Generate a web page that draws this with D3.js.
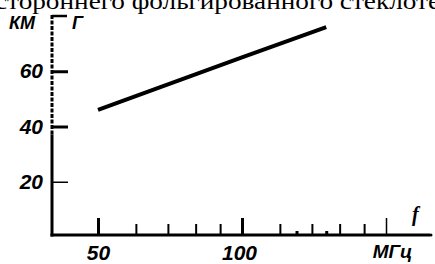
<!DOCTYPE html>
<html>
<head>
<meta charset="utf-8">
<script src="https://cdn.jsdelivr.net/npm/d3@7"></script>
<style>
  body { margin: 0; background: #fff; }
  svg { display: block; }
  .lbl { font-family: "Liberation Sans", Arial, sans-serif; font-style: italic; font-weight: bold; }
</style>
</head>
<body>
<script>
// data
var freq = [50, 100, 150];          // MHz
var values = [46, 65, 76];          // КМ
var yTicks = [20, 40, 60];
var yTopTick = [80];
var xMajor = [50, 100, 200];
var xMajorLabels = ["50", "100", "МГц"];
var xMinor = [60, 70, 80, 90, 120, 140, 160, 180];
var xTiny = [130, 150];

var W = 435, H = 264;
var axisY = 235, axisX = 52;

var svg = d3.select("body").append("svg")
    .attr("width", W)
    .attr("height", H);

// cropped caption line at the top
svg.append("text")
    .attr("x", -5)
    .attr("y", 9)
    .attr("textLength", 445)
    .attr("lengthAdjust", "spacingAndGlyphs")
    .style("font-family", "'Liberation Serif', 'Times New Roman', serif")
    .style("font-size", "24px")
    .text("стороннего фольгированного стеклоте");

// scales
var xScale = d3.scaleLog().domain([50, 200]).range([98, 386]);
var yScale = d3.scaleLinear().domain([0, 80]).range([237, 16]);

// axis lines
svg.append("line")
    .attr("x1", axisX).attr("x2", axisX)
    .attr("y1", yScale(80) - 1).attr("y2", yScale(40) + 8)
    .attr("stroke", "#000").attr("stroke-width", 3)
    .attr("stroke-dasharray", "4,1.5");
svg.append("line")
    .attr("x1", axisX).attr("x2", axisX)
    .attr("y1", yScale(40) + 8).attr("y2", axisY + 1.5)
    .attr("stroke", "#000").attr("stroke-width", 3);
svg.append("line")
    .attr("x1", axisX - 1.5).attr("x2", 430)
    .attr("y1", axisY).attr("y2", axisY)
    .attr("stroke", "#000").attr("stroke-width", 3);
svg.append("circle")
    .attr("cx", 431).attr("cy", axisY).attr("r", 1.5).attr("fill", "#000");

// y axis ticks (inside) + labels (outside)
var yAxis = d3.axisLeft(yScale)
    .tickValues(yTicks)
    .tickSizeInner(-16)
    .tickSizeOuter(0)
    .tickPadding(9)
    .tickFormat(d3.format("d"));
var gy = svg.append("g")
    .attr("transform", "translate(" + axisX + ",0)")
    .call(yAxis);
gy.select(".domain").remove();
gy.selectAll(".tick line").attr("stroke", "#000").attr("stroke-width", function(d) { return d == 20 ? 1.5 : 3; });
gy.selectAll(".tick text").attr("class", "lbl").style("font-size", "21px").attr("fill", "#000");

svg.selectAll(".toptick")
    .data(yTopTick)
    .enter().append("line")
    .attr("x1", axisX).attr("x2", axisX + 15)
    .attr("y1", function(d) { return yScale(d); })
    .attr("y2", function(d) { return yScale(d); })
    .attr("stroke", "#000").attr("stroke-width", 2.5);

// x axis: major, minor, tiny ticks pointing up
var xAxisMajor = d3.axisBottom(xScale)
    .tickValues(xMajor)
    .tickSizeInner(-17)
    .tickSizeOuter(0)
    .tickPadding(7)
    .tickFormat(function(d, i) { return xMajorLabels[i]; });
var gx = svg.append("g")
    .attr("transform", "translate(0," + axisY + ")")
    .call(xAxisMajor);
gx.select(".domain").remove();
gx.selectAll(".tick line").attr("stroke", "#000").attr("stroke-width", function(d) { return d == 200 ? 1.5 : 3; });
gx.selectAll(".tick text").attr("class", "lbl").attr("fill", "#000")
    .style("font-size", function(d) { return d == 200 ? "19px" : "21px"; })
    .attr("dy", "0.85em")
    .attr("dx", function(d) { return d == 200 ? 6 : (d == 100 ? -3 : 0); });

var gMinor = svg.append("g")
    .attr("transform", "translate(0," + axisY + ")")
    .call(d3.axisBottom(xScale).tickValues(xMinor).tickSizeInner(-11).tickSizeOuter(0).tickFormat(""));
gMinor.select(".domain").remove();
gMinor.selectAll(".tick line").attr("stroke", "#000").attr("stroke-width", 2);

var gTiny = svg.append("g")
    .attr("transform", "translate(0," + axisY + ")")
    .call(d3.axisBottom(xScale).tickValues(xTiny).tickSizeInner(-4).tickSizeOuter(0).tickFormat(""));
gTiny.select(".domain").remove();
gTiny.selectAll(".tick line").attr("stroke", "#000").attr("stroke-width", 3);

// data line
var line = d3.line()
    .x(function(d, i) { return xScale(freq[i]); })
    .y(function(d) { return yScale(d); });
svg.append("path")
    .datum(values)
    .attr("d", line)
    .attr("fill", "none")
    .attr("stroke", "#000")
    .attr("stroke-width", 4)
    .attr("stroke-linecap", "butt");

// axis titles
svg.append("text").attr("class", "lbl")
    .attr("x", 9).attr("y", 29)
    .style("font-size", "18px")
    .text("КМ");
svg.append("text").attr("class", "lbl")
    .attr("x", 72).attr("y", 29)
    .style("font-size", "18px")
    .text("Г");
svg.append("text")
    .attr("x", 412).attr("y", 221)
    .style("font-family", "'Liberation Serif', serif")
    .style("font-style", "italic")
    .style("font-weight", "bold")
    .style("font-size", "20px")
    .text("f");
</script>
</body>
</html>
